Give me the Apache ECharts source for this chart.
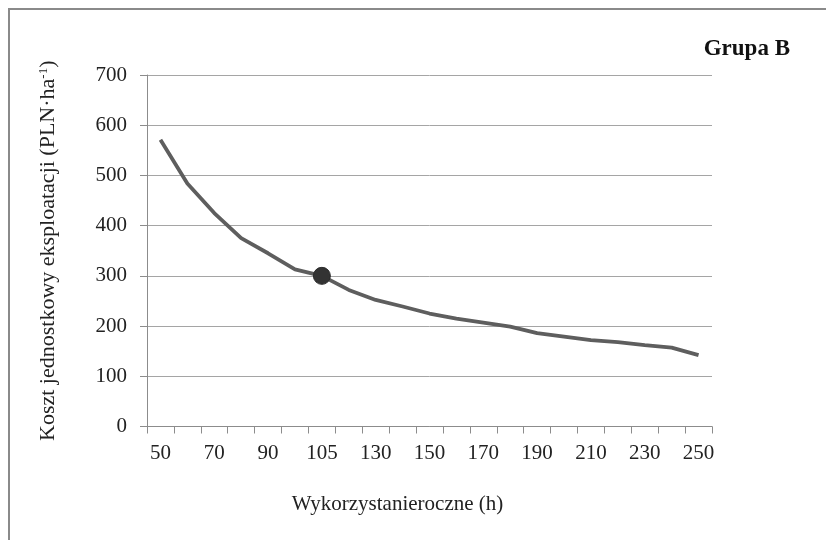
<!DOCTYPE html>
<html>
<head>
<meta charset="utf-8">
<script src="https://cdn.jsdelivr.net/npm/echarts@6/dist/echarts.min.js"></script>
<style>html,body{margin:0;padding:0;background:#fff}#c{width:826px;height:540px}</style>
</head>
<body>
<div id="c"></div>
<script>
const categories = ['50','60','70','80','90','100','105','120','130','140','150','160','170','180','190','200','210','220','230','240','250'];
const costs = [571, 484, 425, 375, 345, 313, 300, 272, 252, 239, 225, 215, 207, 199, 186, 179, 172, 168, 162, 157, 142];
const highlightCategory = '105';
const highlightValue = 300;
const chartTitle = 'Grupa B';
const xName = 'Wykorzystanieroczne (h)';
const yNameMain = 'Koszt jednostkowy eksploatacji (PLN·ha';
const yNameSup = '-1';

const font = '"Liberation Serif", "Times New Roman", serif';
const chart = echarts.init(document.getElementById('c'));
chart.setOption({
  animation: false,
  backgroundColor: '#fff',
  graphic: [{
    type: 'rect', shape: {x: 9, y: 9, width: 840, height: 560},
    style: {fill: 'none', stroke: '#8a8a8a', lineWidth: 2}, z: -1
  }],
  title: {
    text: chartTitle, right: 31, top: 33,
    textStyle: {fontFamily: font, fontWeight: 'bold', fontSize: 23, color: '#111'}
  },
  grid: {left: 147, right: 114, top: 75, bottom: 113.5},
  xAxis: {
    type: 'category', data: categories, boundaryGap: true,
    name: xName, nameLocation: 'middle', nameGap: 67,
    nameTextStyle: {fontFamily: font, fontSize: 21, color: '#222', padding: [0, 64, 0, 0]},
    axisLine: {lineStyle: {color: '#8c8c8c', width: 1}},
    axisTick: {show: true, interval: 0, length: 7, lineStyle: {color: '#8c8c8c'}},
    axisLabel: {interval: 1, margin: 16, fontFamily: font, fontSize: 21, color: '#222'},
    splitLine: {show: false}
  },
  yAxis: {
    type: 'value', min: 0, max: 700, interval: 100,
    name: '{a|' + yNameMain + '}{s|' + yNameSup + '}{a|)}',
    nameLocation: 'middle', nameGap: 88,
    nameTextStyle: {
      rich: {
        a: {fontFamily: font, fontSize: 22, color: '#222'},
        s: {fontFamily: font, fontSize: 13, color: '#222', padding: [0, 0, 9, 0]}
      }
    },
    axisLine: {show: true, lineStyle: {color: '#8c8c8c', width: 1}},
    axisTick: {show: true, length: 7, lineStyle: {color: '#8c8c8c'}},
    axisLabel: {margin: 20, fontFamily: font, fontSize: 21, color: '#222'},
    splitLine: {lineStyle: {color: '#a5a5a5', width: 1}}
  },
  series: [{
    type: 'line', data: costs, showSymbol: false, symbol: 'none',
    lineStyle: {color: '#5e5e5e', width: 3.8}, z: 2
  }, {
    type: 'scatter', data: [[highlightCategory, highlightValue]],
    symbol: 'circle', symbolSize: 17,
    itemStyle: {color: '#333333', borderColor: '#2a2a2a', borderWidth: 1, opacity: 1}, z: 3
  }]
});
</script>
</body>
</html>
